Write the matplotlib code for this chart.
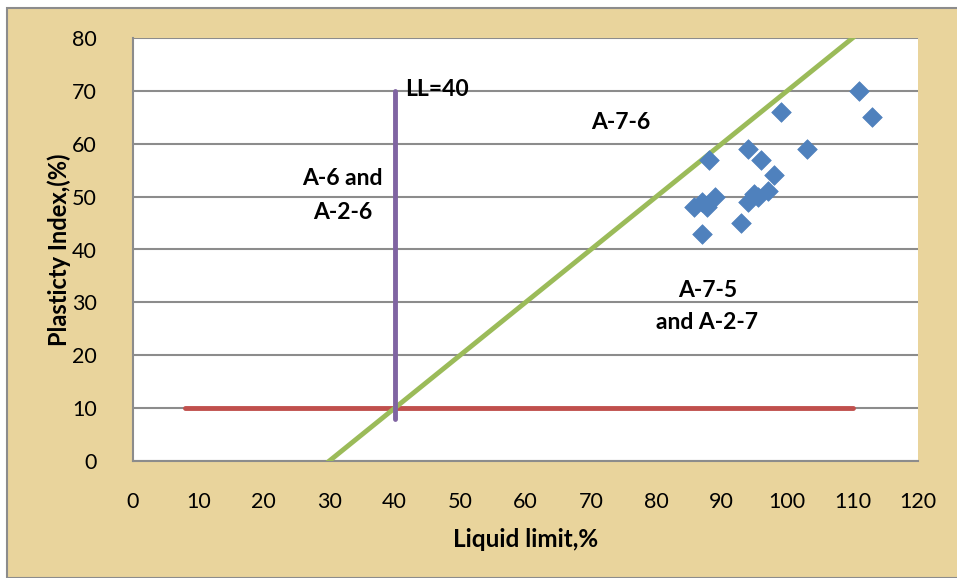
import matplotlib.pyplot as plt
from matplotlib.patches import Rectangle

# ---------- dados ----------
ll = [111, 113, 99, 103, 94, 96, 88, 98, 97, 95.5, 94, 93, 87, 85.7, 87, 87.7, 89, 95]
pi = [70, 65, 66, 59, 59, 57, 57, 54, 51, 50, 49, 45, 43, 48, 49, 48, 50, 50.5]

# linhas de classificação
linha_a_x = [30, 110]
linha_a_y = [0, 80]
linha_pi10_x = [8, 110]
linha_pi10_y = [10, 10]
linha_ll40_x = [40, 40]
linha_ll40_y = [8, 70]

fonte = 'Lato'
fundo = '#E9D49C'

fig = plt.figure(figsize=(9.57, 5.78), dpi=100, facecolor='white')
fig.patches.append(Rectangle((7 / 957, 0.0), 1.0, 1 - 8 / 578, transform=fig.transFigure,
                             facecolor=fundo, edgecolor='#8C8C8C', linewidth=1.5, zorder=-10))

ax = fig.add_axes([133 / 957, 117 / 578, 785 / 957, 423 / 578])
ax.set_facecolor('white')

ax.set_xlim(0, 120)
ax.set_ylim(0, 80)
ax.set_xticks(range(0, 121, 10))
ax.set_yticks(range(0, 81, 10))
ax.grid(axis='y', color='#8C8C8C', linewidth=1.5, zorder=1)
ax.tick_params(length=0, labelsize=15.5, pad=22)
ax.tick_params(axis='y', pad=26)
for lab in ax.get_xticklabels() + ax.get_yticklabels():
    lab.set_fontfamily(fonte)

for s in ['top', 'right']:
    ax.spines[s].set_visible(False)
for s in ['left', 'bottom']:
    ax.spines[s].set_color('#8C8C8C')
    ax.spines[s].set_linewidth(1.5)

ax.plot(linha_pi10_x, linha_pi10_y, color='#C0504D', linewidth=3.5, solid_capstyle='round', zorder=3)
ax.plot(linha_a_x, linha_a_y, color='#9BBB59', linewidth=3.5, zorder=3)
ax.plot(linha_ll40_x, linha_ll40_y, color='#8064A2', linewidth=3.5, solid_capstyle='round', zorder=4)
ax.scatter(ll, pi, marker='D', s=100, color='#4F81BD', edgecolors='#4F81BD', linewidths=0.5, zorder=5)

txt = dict(fontfamily=fonte, fontweight='bold', fontsize=16.5)
ax.text(41.6, 70.3, 'LL=40', ha='left', va='center', **txt)
ax.text(32, 53.5, 'A-6 and', ha='center', va='center', **txt)
ax.text(32, 47, 'A-2-6', ha='center', va='center', **txt)
ax.text(74.5, 64, 'A-7-6', ha='center', va='center', **txt)
ax.text(87.8, 32.3, 'A-7-5', ha='center', va='center', **txt)
ax.text(87.8, 26.2, 'and A-2-7', ha='center', va='center', **txt)

ax.set_xlabel('Liquid limit,%', fontfamily=fonte, fontweight='bold', fontsize=17.5, labelpad=12)
ax.set_ylabel('Plasticty Index,(%)', fontfamily=fonte, fontweight='bold', fontsize=17, labelpad=1)

fig.savefig('out.png', dpi=100, facecolor=fig.get_facecolor())
